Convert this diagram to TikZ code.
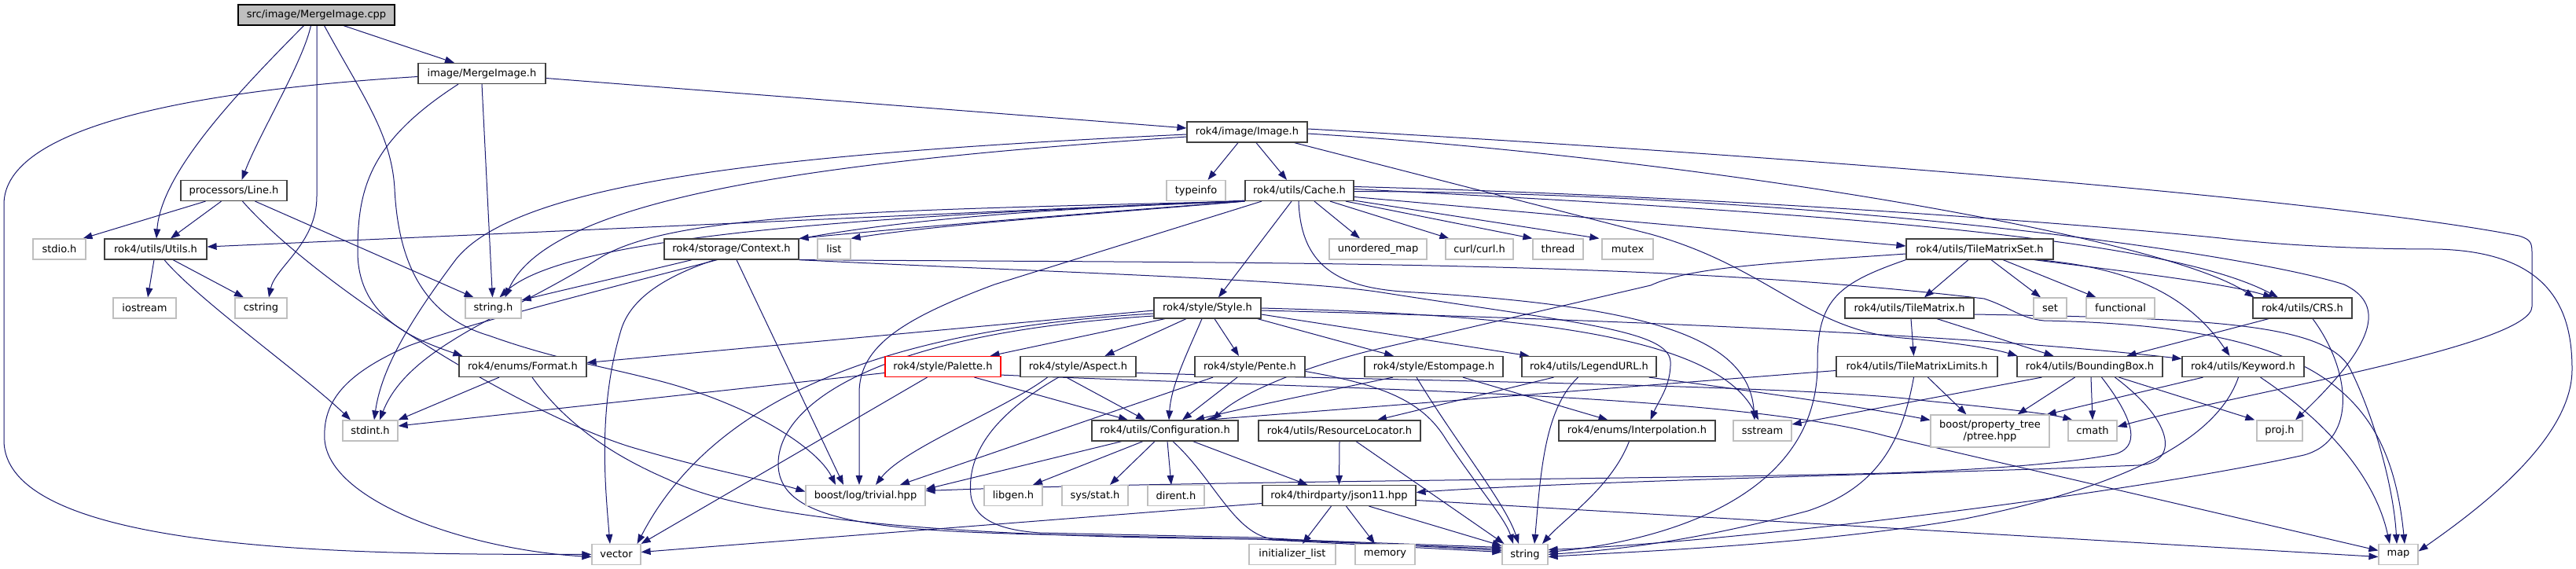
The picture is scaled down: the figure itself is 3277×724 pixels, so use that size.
\documentclass[tikz,border=0pt]{standalone}
\usepackage{fontspec}
\usetikzlibrary{arrows.meta,calc}
\newfontfamily\dxfam{DejaVu Sans}
\newcommand\dxfont{\dxfam\fontsize{9.75pt}{11pt}\selectfont}
\definecolor{edgeblue}{HTML}{191970}
\pgfdeclarelayer{bg}
\pgfsetlayers{bg,main}
\tikzset{
  hd/.style={draw=black!75, fill=white, line width=0.9pt, inner sep=0pt, minimum height=19.5pt, font=\dxfont, text=black},
  ex/.style={hd, draw=black!25},
  bw/.style={minimum width=#1*0.75pt},
  dep/.style={draw=edgeblue, line width=0.75pt, -{Triangle[length=9pt,width=6.5pt]}}
}
\begin{document}
\begin{tikzpicture}[x=0.75pt,y=-0.75pt]
\useasboundingbox (0,0) rectangle (3277,724);
% ---------- nodes ----------
\node[hd,fill=black!25,draw=black,bw=199] (cpp) at (402.5,19) {src/image/MergeImage.cpp};
\node[hd,bw=162] (mh) at (613,93.5) {image/MergeImage.h};
\node[hd,bw=153] (image) at (1586.5,168) {rok4/image/Image.h};
\node[hd,bw=135] (line) at (297.5,242.5) {processors/Line.h};
\node[ex,bw=75] (typeinfo) at (1521.5,242.5) {typeinfo};
\node[hd,bw=138] (cache) at (1653,242.5) {rok4/utils/Cache.h};
\node[ex,bw=67] (stdio) at (75.5,317) {stdio.h};
\node[hd,bw=130] (utils) at (198,317) {rok4/utils/Utils.h};
\node[hd,bw=171] (context) at (930.5,317) {rok4/storage/Context.h};
\node[ex,bw=42] (list) at (1061,317) {list};
\node[ex,bw=124] (umap) at (1753,317) {unordered\_map};
\node[ex,bw=86] (curl) at (1882,317) {curl/curl.h};
\node[ex,bw=64] (thread) at (1982,317) {thread};
\node[ex,bw=65] (mutex) at (2070.5,317) {mutex};
\node[hd,bw=187] (tms) at (2518.5,317) {rok4/utils/TileMatrixSet.h};
\node[ex,bw=80] (iostream) at (184,392) {iostream};
\node[ex,bw=66] (cstring) at (332,392) {cstring};
\node[ex,bw=71] (stringh) at (627.5,392) {string.h};
\node[hd,bw=136] (style) at (1536,392) {rok4/style/Style.h};
\node[hd,bw=164] (tm) at (2429,392) {rok4/utils/TileMatrix.h};
\node[ex,bw=42] (set) at (2608,392) {set};
\node[ex,bw=87] (functional) at (2697.5,392) {functional};
\node[hd,bw=126] (crs) at (2929,392) {rok4/utils/CRS.h};
\node[hd,bw=162] (format) at (665,466.5) {rok4/enums/Format.h};
\node[hd,draw=red,bw=147] (palette) at (1199.5,466.5) {rok4/style/Palette.h};
\node[hd,bw=147] (aspect) at (1371.5,466.5) {rok4/style/Aspect.h};
\node[hd,bw=140] (pente) at (1590,466.5) {rok4/style/Pente.h};
\node[hd,bw=176] (estompage) at (1824,466.5) {rok4/style/Estompage.h};
\node[hd,bw=171] (legend) at (2021.5,466.5) {rok4/utils/LegendURL.h};
\node[hd,bw=205] (tml) at (2438.5,466.5) {rok4/utils/TileMatrixLimits.h};
\node[hd,bw=185] (bbox) at (2658.5,466.5) {rok4/utils/BoundingBox.h};
\node[hd,bw=155] (keyword) at (2853.5,466.5) {rok4/utils/Keyword.h};
\node[ex,bw=70] (stdint) at (471,548) {stdint.h};
\node[hd,bw=186] (config) at (1482,548) {rok4/utils/Configuration.h};
\node[hd,bw=206] (resloc) at (1704,548) {rok4/utils/ResourceLocator.h};
\node[hd,bw=199] (interp) at (2082.5,548) {rok4/enums/Interpolation.h};
\node[ex,bw=74] (sstream) at (2242,548) {sstream};
\node[ex,bw=151,minimum height=30.75pt,align=center] (ptree) at (2531.5,548.5) {boost/property\_tree\\/ptree.hpp};
\node[ex,bw=62] (cmath) at (2662,548) {cmath};
\node[ex,bw=58] (proj) at (2900,548) {proj.h};
\node[ex,bw=152] (boostlog) at (1101,630.5) {boost/log/trivial.hpp};
\node[ex,bw=74] (libgen) at (1289,630.5) {libgen.h};
\node[ex,bw=84] (sysstat) at (1393,630.5) {sys/stat.h};
\node[ex,bw=72] (dirent) at (1496,630.5) {dirent.h};
\node[hd,bw=195] (json) at (1703.5,630.5) {rok4/thirdparty/json11.hpp};
\node[ex,bw=62] (vector) at (784,705.5) {vector};
\node[ex,bw=110] (initlist) at (1644,705.5) {initializer\_list};
\node[ex,bw=76] (memory) at (1762,705.5) {memory};
\node[ex,bw=58] (string) at (1940,705.5) {string};
\node[ex,bw=50] (map) at (3051,705.5) {map};
% ---------- edges ----------
\begin{pgfonlayer}{bg}
\fill[white] (0,0) rectangle (3277,724);
% cpp
\draw[dep] ($(cpp.south)+(34.5,0)$) -- ($(mh.north)+(-35,0)$);
\draw[dep] ($(cpp.south)+(-7,0)$) .. controls (385,80) and (330,170) .. ($(line.north)+(10,0)$);
\draw[dep] ($(cpp.south)+(-16,0)$) .. controls (300,120) and (205,220) .. ($(utils.north)+(1,0)$);
\draw[dep] ($(cpp.south)+(0.5,0)$) -- (403,250) .. controls (403,310) and (350,340) .. ($(cstring.north)+(10,0)$);
\draw[dep] ($(cpp.south)+(10,0)$) .. controls (460,120) and (498,170) .. (502,240) .. controls (506,320) and (530,400) .. (622,427) .. controls (700,455) and (760,465) .. (820,480) .. controls (950,510) and (1040,570) .. ($(boostlog.north)+(-38,0)$);
% MergeImage.h
\draw[dep] ($(mh.west)+(0,4)$) .. controls (250,115) and (5,160) .. (5,260) -- (5,560) .. controls (5,710) and (500,705) .. (vector.west);
\draw[dep] ($(mh.south)+(-30,0)$) .. controls (470,180) and (455,240) .. (455,320) .. controls (455,400) and (520,430) .. ($(format.north west)+(5,0)$);
\draw[dep] (mh.south) -- ($(stringh.north)+(-1,0)$);
\draw[dep] ($(mh.east)+(0,6)$) -- ($(image.west)+(0,-5)$);
% Line.h
\draw[dep] ($(line.south)+(-36,0)$) -- ($(stdio.north)+(30,0)$);
\draw[dep] ($(line.south)+(-16,0)$) -- ($(utils.north)+(19,0)$);
\draw[dep] ($(line.south)+(11,0)$) .. controls (400,360) and (650,520) .. (800,568) .. controls (900,598) and (980,612) .. ($(boostlog.west)+(0,-5)$);
\draw[dep] ($(line.south)+(27,0)$) -- ($(stringh.north)+(-25,0)$);
% Utils.h
\draw[dep] ($(utils.south)+(-2,0)$) -- ($(iostream.north)+(4,0)$);
\draw[dep] ($(utils.south)+(22,0)$) -- ($(cstring.north)+(-22,0)$);
\draw[dep] ($(utils.south)+(11,0)$) .. controls (250,380) and (390,480) .. ($(stdint.north)+(-25,0)$);
% Image.h
\draw[dep] ($(image.south)+(-11.5,0)$) -- ($(typeinfo.north)+(15,0)$);
\draw[dep] ($(image.south)+(11.5,0)$) -- ($(cache.north)+(-16,0)$);
\draw[dep] ($(image.west)+(0,3)$) .. controls (1000,195) and (660,230) .. (580,330) .. controls (520,410) and (485,470) .. ($(stdint.north)+(5,0)$);
\draw[dep] ($(image.west)+(0,6)$) .. controls (1050,205) and (700,250) .. ($(stringh.north)+(15,0)$);
\draw[dep] ($(image.south)+(60,0)$) -- (2100,298) .. controls (2250,340) and (2300,420) .. (2420,430) .. controls (2500,437) and (2540,445) .. ($(bbox.north west)+(1,0)$);
\draw[dep] ($(image.east)+(0,2)$) .. controls (2150,200) and (2750,300) .. ($(crs.north west)+(2,0)$);
\draw[dep] ($(image.east)+(0,-4)$) .. controls (2400,205) and (3000,260) .. (3204,300) .. controls (3221,305) and (3221,310) .. (3221,325) -- (3221,390) .. controls (3221,440) and (2850,500) .. ($(cmath.east)+(0,-5)$);
% Cache.h
\draw[dep] ($(cache.south west)+(0,-1)$) -- ($(utils.east)+(0,-3)$);
\draw[dep] (cache.south west) .. controls (1400,270) and (1150,290) .. (context.north east);
\draw[dep] (cache.south west) .. controls (1400,272) and (1200,285) .. (list.north east);
\draw[dep] (cache.south west) .. controls (1100,275) and (720,300) .. ($(stringh.north)+(8,0)$);
\draw[dep] (cache.south west) .. controls (1100,268) and (850,272) .. (760,330) .. controls (650,400) and (520,440) .. ($(stdint.north)+(12,0)$);
\draw[dep] (cache.south west) .. controls (1050,275) and (820,320) .. (790,420) .. controls (760,520) and (770,620) .. ($(vector.north)+(-8,0)$);
\draw[dep] ($(cache.south)+(-48,0)$) -- (1265,362) .. controls (1150,405) and (1093,440) .. (1093,500) -- ($(boostlog.north)+(-8,0)$);
\draw[dep] ($(cache.south)+(-10,0)$) -- ($(style.north)+(14,0)$);
\draw[dep] ($(cache.south)+(19,0)$) -- ($(umap.north)+(-23,0)$);
\draw[dep] ($(cache.south)+(39,0)$) -- ($(curl.north west)+(5,0)$);
\draw[dep] ($(cache.south)+(59,0)$) -- (thread.north west);
\draw[dep] ($(cache.south east)+(0,-1)$) -- ($(mutex.north west)+(-3,0)$);
\draw[dep] ($(cache.east)+(0,8)$) -- ($(tms.west)+(0,-4)$);
\draw[dep] ($(cache.east)+(0,-2)$) .. controls (2300,270) and (2750,300) .. ($(crs.north)+(-31,0)$);
\draw[dep] ($(cache.east)+(0,-5)$) .. controls (2200,250) and (2650,285) .. (2825,303) .. controls (2900,312) and (3000,317) .. (3099,317) .. controls (3250,320) and (3272,400) .. (3272,470) .. controls (3272,560) and (3150,650) .. ($(map.east)+(0,-4)$);
\draw[dep] ($(cache.east)+(0,1)$) .. controls (2300,245) and (2850,320) .. (2982,362) .. controls (3030,385) and (3030,430) .. ($(proj.north)+(20,0)$);
\draw[dep] ($(cache.south)+(-1,0)$) .. controls (1655,345) and (1710,368) .. (1800,372) .. controls (2100,390) and (2225,430) .. ($(sstream.north)+(-10,0)$);
% Context.h
\draw[dep] ($(context.south west)+(36,0)$) .. controls (800,350) and (720,368) .. ($(stringh.east)+(0,-10)$);
\draw[dep] ($(context.south)+(-18,0)$) .. controls (800,360) and (600,410) .. (520,440) .. controls (440,475) and (410,510) .. (413,560) .. controls (420,640) and (600,700) .. ($(vector.west)+(0,3)$);
\draw[dep] ($(context.south)+(6.5,0)$) -- ($(boostlog.north)+(-28,0)$);
\draw[dep] (context.south east) .. controls (1600,335) and (2100,330) .. (2524,380) .. controls (2560,392) and (2570,405) .. (2600,408) .. controls (2950,415) and (3040,500) .. ($(map.north)+(8,0)$);
\draw[dep] (context.south east) .. controls (1300,345) and (1650,355) .. (1757,372) .. controls (2000,410) and (2123,420) .. (2125,460) .. controls (2126,490) and (2110,510) .. ($(interp.north)+(17,0)$);
% Style.h
\draw[dep] ($(style.south)+(-54,0)$) -- ($(palette.north)+(60,0)$);
\draw[dep] ($(style.south)+(-27,0)$) -- ($(aspect.north)+(34,0)$);
\draw[dep] ($(style.south)+(9,0)$) -- ($(pente.north)+(-14,0)$);
\draw[dep] ($(style.south)+(-7,0)$) .. controls (1510,450) and (1490,490) .. ($(config.north)+(5,0)$);
\draw[dep] ($(style.south east)+(-5,0)$) -- ($(estompage.north)+(-51,0)$);
\draw[dep] ($(style.east)+(0,8)$) -- ($(legend.north west)+(10,0)$);
\draw[dep] ($(style.west)+(0,3)$) -- ($(format.east)+(0,-5)$);
\draw[dep] ($(style.west)+(0,7)$) .. controls (1100,420) and (900,520) .. ($(vector.north east)+(-5,0)$);
\draw[dep] ($(style.west)+(0,10)$) .. controls (1100,425) and (990,520) .. (990,590) .. controls (990,660) and (1100,675) .. (1323,680) -- (1600,686) -- ($(string.west)+(0,-7)$);
\draw[dep] ($(style.east)+(0,3)$) .. controls (2000,405) and (2500,425) .. ($(keyword.west)+(0,-10)$);
\draw[dep] (style.east) .. controls (1900,400) and (2180,420) .. ($(sstream.north)+(-5,0)$);
% Format.h
\draw[dep] ($(format.south)+(-30,0)$) -- (stdint.north east);
\draw[dep] ($(format.south)+(12,0)$) .. controls (720,540) and (780,580) .. (850,610) .. controls (950,660) and (1200,683) .. (1600,686) -- ($(string.west)+(0,-3)$);
% Palette.h
\draw[dep] ($(palette.west)+(0,8)$) -- ($(stdint.east)+(0,-6)$);
\draw[dep] ($(palette.south)+(40,0)$) -- ($(config.north)+(-47,0)$);
\draw[dep] ($(palette.south)+(-20,0)$) -- (vector.north east);
\draw[dep] ($(palette.south east)+(0,-3)$) .. controls (1700,495) and (2200,500) .. (2400,555) -- ($(map.west)+(0,-5)$);
% Aspect.h
\draw[dep] ($(aspect.south)+(-15,0)$) -- ($(config.north)+(-25,0)$);
\draw[dep] ($(aspect.south)+(-39,0)$) .. controls (1280,520) and (1150,570) .. ($(boostlog.north)+(13,0)$);
\draw[dep] ($(aspect.south)+(-25,0)$) .. controls (1260,530) and (1230,580) .. (1235,630) .. controls (1240,665) and (1280,675) .. (1323,678) -- (1600,684) -- ($(string.west)+(0,-5)$);
\draw[dep] ($(aspect.east)+(0,8)$) .. controls (1800,485) and (2300,490) .. (2450,510) .. controls (2550,520) and (2610,527) .. ($(cmath.north west)+(6,0)$);
% Pente.h
\draw[dep] ($(pente.south)+(-16,0)$) -- ($(config.north)+(22,0)$);
\draw[dep] ($(pente.south)+(-47,0)$) -- ($(boostlog.north)+(44,0)$);
\draw[dep] ($(pente.east)+(0,6)$) .. controls (1760,490) and (1810,510) .. (1840,560) .. controls (1880,620) and (1915,660) .. ($(string.north)+(-15,0)$);
% Estompage.h
\draw[dep] ($(estompage.south)+(-52,0)$) .. controls (1700,495) and (1600,515) .. ($(config.north)+(38,0)$);
\draw[dep] ($(estompage.south)+(37,0)$) -- ($(interp.north)+(-37,0)$);
\draw[dep] ($(estompage.south)+(-22,0)$) .. controls (1850,560) and (1915,640) .. ($(string.north)+(-8,0)$);
% LegendURL.h
\draw[dep] ($(legend.south)+(-45,0)$) -- ($(resloc.north)+(48,0)$);
\draw[dep] ($(legend.south)+(-14,0)$) .. controls (1965,520) and (1960,600) .. ($(string.north)+(12,0)$);
\draw[dep] ($(legend.south east)+(-10,0)$) .. controls (2250,500) and (2380,520) .. ($(ptree.west)+(0,-14)$);
% Interpolation.h
\draw[dep] ($(interp.south)+(-10,0)$) .. controls (2050,620) and (1990,660) .. ($(string.north)+(22,0)$);
% Configuration.h
\draw[dep] ($(config.south)+(-55,0)$) -- ($(boostlog.east)+(0,-8)$);
\draw[dep] ($(config.south)+(-28,0)$) -- ($(libgen.north)+(25,0)$);
\draw[dep] ($(config.south)+(-13,0)$) -- ($(sysstat.north)+(19,0)$);
\draw[dep] ($(config.south)+(3,0)$) -- ($(dirent.north)+(-6,0)$);
\draw[dep] ($(config.south)+(10,0)$) .. controls (1545,610) and (1570,680) .. (1620,686) -- ($(string.west)+(0,-9)$);
\draw[dep] ($(config.south east)+(-58,0)$) -- ($(json.north)+(-40,0)$);
% ResourceLocator.h
\draw[dep] (resloc.south) -- (json.north);
\draw[dep] ($(resloc.south)+(21,0)$) -- ($(string.north west)+(3,0)$);
% json11.hpp
\draw[dep] ($(json.west)+(0,10)$) -- ($(vector.east)+(0,-3)$);
\draw[dep] ($(json.south)+(-10,0)$) -- ($(initlist.north)+(13,0)$);
\draw[dep] ($(json.south)+(9,0)$) -- ($(memory.north)+(-13,0)$);
\draw[dep] ($(json.south)+(38,0)$) -- ($(string.west)+(0,-11)$);
\draw[dep] ($(json.east)+(0,6)$) -- ($(map.west)+(0,3)$);
% TileMatrixSet.h
\draw[dep] ($(tms.south)+(-14.5,0)$) -- ($(tm.north)+(19,0)$);
\draw[dep] ($(tms.south)+(14.5,0)$) -- ($(set.north)+(-12,0)$);
\draw[dep] ($(tms.south)+(29.5,0)$) -- ($(functional.north)+(-31,0)$);
\draw[dep] ($(tms.south east)+(-25,0)$) .. controls (2700,345) and (2830,360) .. ($(crs.north)+(-38,0)$);
\draw[dep] ($(tms.south east)+(-20,0)$) .. controls (2700,340) and (2780,370) .. ($(keyword.north)+(-17,0)$);
\draw[dep] ($(tms.west)+(0,6)$) .. controls (2250,335) and (2150,340) .. (2100,363) -- (1740,447) .. controls (1650,470) and (1580,500) .. ($(config.north)+(60,0)$);
\draw[dep] (tms.south west) .. controls (2340,360) and (2312,380) .. (2312,460) .. controls (2315,640) and (2100,690) .. ($(string.east)+(0,-3)$);
% TileMatrix.h
\draw[dep] ($(tm.south)+(2,0)$) -- ($(tml.north)+(-4,0)$);
\draw[dep] ($(tm.south)+(35,0)$) -- ($(bbox.north)+(-46,0)$);
\draw[dep] ($(tm.east)+(0,8)$) .. controls (2800,405) and (2960,410) .. (2990,470) .. controls (3020,530) and (3045,620) .. ($(map.north)+(-2,0)$);
% TileMatrixLimits.h
\draw[dep] ($(tml.south)+(14,0)$) -- ($(ptree.north)+(-30,0)$);
\draw[dep] ($(tml.west)+(0,5)$) -- ($(config.north)+(51,0)$);
\draw[dep] ($(tml.south)+(-4,0)$) .. controls (2420,560) and (2390,620) .. (2300,650) .. controls (2150,690) and (2050,700) .. (string.east);
% BoundingBox.h
\draw[dep] ($(bbox.south)+(-19,0)$) -- ($(ptree.north)+(35,0)$);
\draw[dep] ($(bbox.south)+(1.5,0)$) -- (cmath.north);
\draw[dep] ($(bbox.south)+(37,0)$) -- ($(proj.north west)+(-2,0)$);
\draw[dep] ($(bbox.south west)+(32,0)$) -- ($(sstream.east)+(0,-8)$);
\draw[dep] ($(bbox.south)+(15,0)$) .. controls (2720,540) and (2720,570) .. (2690,578) .. controls (2600,595) and (2450,600) .. (2400,602) .. controls (2100,610) and (1500,612) .. ($(boostlog.east)+(0,-6)$);
\draw[dep] ($(bbox.south)+(32,0)$) .. controls (2770,540) and (2770,590) .. (2720,592) .. controls (2550,600) and (2000,612) .. ($(json.east)+(0,-4)$);
% CRS.h
\draw[dep] ($(crs.south)+(-43,0)$) -- ($(bbox.north)+(47,0)$);
\draw[dep] ($(crs.south)+(13,0)$) .. controls (2990,470) and (3000,560) .. (2931,579) .. controls (2700,630) and (2200,690) .. ($(string.east)+(0,-6)$);
% Keyword.h
\draw[dep] ($(keyword.south)+(-51,0)$) -- ($(ptree.north east)+(-4,0)$);
\draw[dep] ($(keyword.south)+(-6,0)$) .. controls (2820,560) and (2700,620) .. (2500,660) .. controls (2300,695) and (2050,703) .. ($(string.east)+(0,3)$);
\draw[dep] ($(keyword.south)+(22,0)$) .. controls (2950,530) and (3020,600) .. ($(map.north)+(-11,0)$);
\end{pgfonlayer}
\end{tikzpicture}
\end{document}
